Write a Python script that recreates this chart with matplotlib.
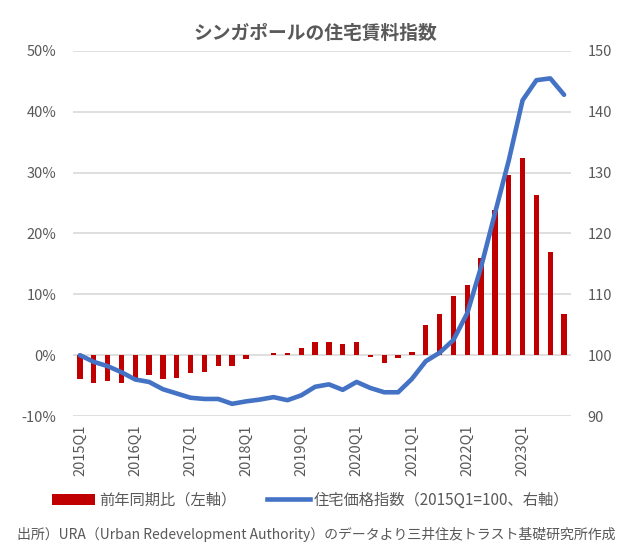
import matplotlib
matplotlib.use("Agg")
import matplotlib.pyplot as plt
import numpy as np
from matplotlib.patches import Patch
from matplotlib.lines import Line2D

plt.rcParams['font.family'] = ['Noto Sans CJK JP', 'DejaVu Sans']

quarters = [f"{y}Q{q}" for y in range(2015, 2024) for q in range(1, 5)]
yoy = [-4.0, -4.6, -4.3, -4.6, -4.0, -3.3, -4.0, -3.7, -3.0, -2.8, -1.7, -1.7,
       -0.7, 0.0, 0.4, 0.4, 1.1, 2.1, 2.1, 1.9, 2.2, -0.3, -1.3, -0.5,
       0.6, 4.9, 6.8, 9.7, 11.5, 16.0, 23.8, 29.6, 32.4, 26.4, 16.9, 6.8]
index = [100.0, 98.9, 98.2, 97.2, 96.0, 95.6, 94.4, 93.7, 93.0, 92.8, 92.8, 92.0,
         92.4, 92.7, 93.1, 92.6, 93.4, 94.8, 95.2, 94.3, 95.6, 94.6, 93.9, 93.9,
         96.1, 99.0, 100.4, 102.5, 106.9, 114.5, 123.3, 132.0, 141.9, 145.2, 145.5, 142.8]
left_ticks = [-10, 0, 10, 20, 30, 40, 50]
right_ticks = [90, 100, 110, 120, 130, 140, 150]

title = "シンガポールの住宅賃料指数"
bar_label = "前年同期比（左軸）"
line_label = "住宅価格指数（2015Q1=100、右軸）"
source = "出所）URA（Urban Redevelopment Authority）のデータより三井住友トラスト基礎研究所作成"

W, H = 632, 550
fig = plt.figure(figsize=(W/100, H/100), dpi=100)
ax = fig.add_axes([73/W, 1-416/H, (571-73)/W, (416-51)/H])
ax2 = ax.twinx()

gray = '#595959'
x = np.arange(len(quarters))
ax.bar(x, yoy, width=0.38, color='#C00000', zorder=2)
ax.set_ylim(-10, 50)
ax.set_yticks(left_ticks)
ax.set_yticklabels([f"{t}%" for t in left_ticks])
ax.yaxis.grid(True, color='#D9D9D9', linewidth=1.2, zorder=0)
ax.set_axisbelow(True)
ax.set_xlim(-0.5, len(quarters)-0.5)
ax.set_xticks(x[::4])
ax.set_xticklabels(quarters[::4], rotation=90)

ax2.plot(x, index, color='#4472C4', linewidth=3.3, solid_capstyle='round', zorder=3)
ax2.set_ylim(90, 150)
ax2.set_yticks(right_ticks)

for a in (ax, ax2):
    for s in a.spines.values():
        s.set_visible(False)
    a.tick_params(length=0, colors=gray, labelsize=10.5)
ax.tick_params(axis='y', pad=12)
ax2.tick_params(axis='y', pad=12)
ax.tick_params(axis='x', pad=6)

fig.text(315/W, 1-33/H, title, ha='center', va='center', fontsize=13.5,
         fontweight='bold', color=gray)

handles = [Patch(facecolor='#C00000', edgecolor='none'),
           Line2D([0], [0], color='#4472C4', linewidth=3.3)]
fig.legend(handles, [bar_label, line_label], loc='center', bbox_to_anchor=(311/W, 1-500/H),
           ncol=2, frameon=False, fontsize=11, handlelength=2.8, columnspacing=2.0,
           handletextpad=0.27, labelcolor=gray)

fig.text(316/W, 1-535/H, source, ha='center', va='center', fontsize=10, color=gray)

fig.savefig('out.png', dpi=100)
